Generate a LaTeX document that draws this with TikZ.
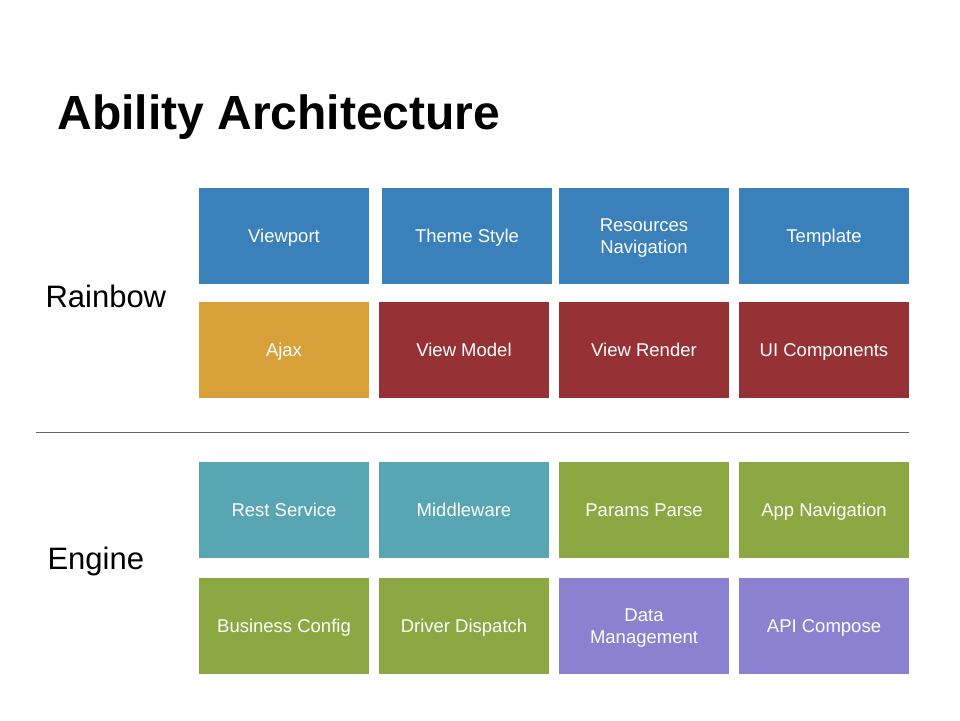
\documentclass[tikz,border=0pt]{standalone}
\usepackage{fontspec}
\setmainfont{Liberation Sans}
\usepackage{tikz}
\usetikzlibrary{positioning}

\definecolor{cblue}{HTML}{3A80BA}
\definecolor{corange}{HTML}{D8A038}
\definecolor{cred}{HTML}{963236}
\definecolor{cteal}{HTML}{58A6B3}
\definecolor{cgreen}{HTML}{8BA843}
\definecolor{cpurple}{HTML}{8A82D0}

\tikzset{tile/.style={rectangle, minimum width=170pt, minimum height=96pt,
    inner sep=0pt, text=white, align=center, text height=13.3pt, text depth=0pt,
    font=\fontsize{18.5}{22}\selectfont},
  tiletwo/.style={tile, text height=35.3pt}}

\begin{document}
\begin{tikzpicture}[x=1pt,y=-1pt]
\useasboundingbox (0,0) rectangle (960,720);
%\draw[help lines] (0,0) grid (960,720);
\node[anchor=base west, font=\fontsize{48}{50}\selectfont\bfseries] (title) at (54,129) {Ability Architecture};
\node[anchor=base west, font=\fontsize{31}{34}\selectfont] (rainbow) at (42,307) {Rainbow};
\node[anchor=base west, font=\fontsize{31}{34}\selectfont] (engine) at (44,569) {Engine};
% Rainbow
\node[tile, fill=cblue] (viewport) at (284,236) {Viewport};
\node[tile, fill=cblue] (theme) at (467,236) {Theme Style};
\node[tiletwo, fill=cblue] (resnav) at (644,236) {Resources\\Navigation};
\node[tile, fill=cblue] (template) at (824,236) {Template};
\node[tile, fill=corange] (ajax) at (284,350) {Ajax};
\node[tile, fill=cred] (viewmodel) at (464,350) {View Model};
\node[tile, fill=cred] (viewrender) at (644,350) {View Render};
\node[tile, fill=cred] (uicomp) at (824,350) {UI Components};
% separator
\coordinate (sepL) at (36,432);
\coordinate (sepR) at (909,432);
\draw[color=black!60, line width=1pt] (sepL) -- (sepR);
% Engine
\node[tile, fill=cteal] (rest) at (284,510) {Rest Service};
\node[tile, fill=cteal] (middleware) at (464,510) {Middleware};
\node[tile, fill=cgreen] (params) at (644,510) {Params Parse};
\node[tile, fill=cgreen] (appnav) at (824,510) {App Navigation};
\node[tile, fill=cgreen] (business) at (284,625.5) {Business Config};
\node[tile, fill=cgreen] (driver) at (464,625.5) {Driver Dispatch};
\node[tiletwo, fill=cpurple] (datamgmt) at (644,625.5) {Data\\Management};
\node[tile, fill=cpurple] (apicomp) at (824,625.5) {API Compose};
\end{tikzpicture}
\end{document}
